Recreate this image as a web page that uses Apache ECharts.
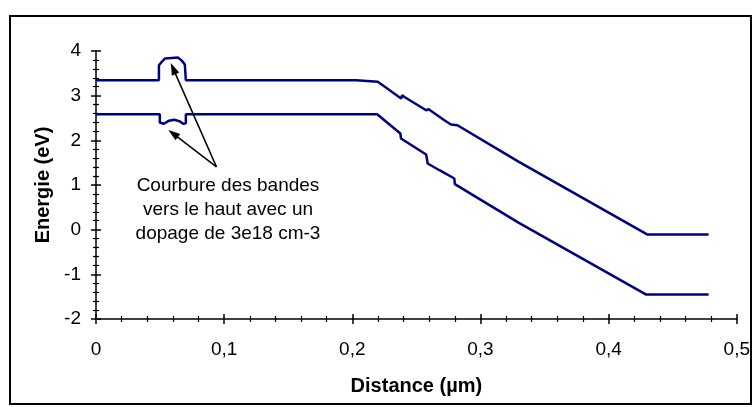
<!DOCTYPE html>
<html>
<head>
<meta charset="utf-8">
<script src="https://cdn.jsdelivr.net/npm/echarts@6/dist/echarts.min.js"></script>
<style>
html,body{margin:0;padding:0;background:#fff;}
#chart{width:753px;height:407px;}
</style>
</head>
<body>
<div id="chart"></div>
<script>
// Conduction band (upper curve): [distance µm, energy eV]
const bandUpperX = [0, 0.0491, 0.0491, 0.0512, 0.0537, 0.0551, 0.0641, 0.0667, 0.0693, 0.0701, 0.0701, 0.203, 0.203, 0.2199, 0.2381, 0.2389, 0.2407, 0.2576, 0.2596, 0.2718, 0.277, 0.278, 0.282, 0.3146, 0.330, 0.430, 0.478];
const bandUpperY = [3.345, 3.345, 3.68, 3.754, 3.83, 3.852, 3.852, 3.79, 3.70, 3.68, 3.345, 3.345, 3.31, 3.31, 2.935, 3.01, 2.97, 2.673, 2.696, 2.45, 2.353, 2.39, 2.338, 1.78, 1.517, -0.107, -0.107];
// Valence band (lower curve)
const bandLowerX = [0, 0.0498, 0.0498, 0.053, 0.057, 0.061, 0.065, 0.068, 0.0701, 0.0701, 0.2194, 0.2375, 0.238, 0.2576, 0.2588, 0.268, 0.2796, 0.280, 0.299, 0.330, 0.429, 0.478];
const bandLowerY = [2.584, 2.584, 2.40, 2.37, 2.44, 2.46, 2.43, 2.37, 2.38, 2.584, 2.584, 2.152, 2.04, 1.682, 1.481, 1.331, 1.145, 1.018, 0.69, 0.152, -1.45, -1.45];

const xTickLabels = ['0', '0,1', '0,2', '0,3', '0,4', '0,5'];
const yTickLabels = ['-2', '-1', '0', '1', '2', '3', '4'];

const annotationLines = ['Courbure des bandes', 'vers le haut avec un', 'dopage de 3e18 cm-3'];
const annotationAnchor = [0.103, 0.436];
const arrowTail = [0.094, 1.405];
const arrowTips = [[0.0602, 3.606], [0.0602, 2.152]];

const xAxisTitle = 'Distance (µm)';
const yAxisTitle = 'Energie (eV)';

const FONT = '"Liberation Sans", Arial, sans-serif';
const zip = (xs, ys) => xs.map((x, i) => [x, ys[i]]);

const chart = echarts.init(document.getElementById('chart'), null, {renderer: 'canvas'});

const axisLineStyle = {color: '#000', width: 1.5};
function xAxisDef(inside) {
  return {
    type: 'value', min: 0, max: 0.5, interval: 0.1, position: 'bottom',
    splitLine: {show: false},
    axisLine: {show: !inside, onZero: false, lineStyle: axisLineStyle},
    axisTick: {show: true, inside: inside, length: 5, lineStyle: {color: '#000', width: 1.5}},
    minorTick: {show: true, splitNumber: 5, length: 3, lineStyle: {color: '#000', width: 1.2}},
    axisLabel: inside ? {show: false} : {
      show: true, margin: 21, color: '#000', fontSize: 19, fontFamily: FONT,
      formatter: (v, i) => xTickLabels[Math.round(v / 0.1)]
    },
    name: inside ? '' : xAxisTitle,
    nameLocation: 'middle', nameGap: 57,
    nameTextStyle: {fontSize: 20, fontWeight: 'bold', color: '#000', fontFamily: FONT}
  };
}
function yAxisDef(inside) {
  return {
    type: 'value', min: -2, max: 4, interval: 1, position: 'left',
    splitLine: {show: false},
    axisLine: {show: !inside, onZero: false, lineStyle: axisLineStyle},
    axisTick: {show: true, inside: inside, length: 5, lineStyle: {color: '#000', width: 1.5}},
    minorTick: {show: true, splitNumber: 5, length: 3, lineStyle: {color: '#000', width: 1.2}},
    axisLabel: inside ? {show: false} : {
      show: true, margin: 15, color: '#000', fontSize: 19, fontFamily: FONT,
      formatter: (v) => yTickLabels[Math.round(v + 2)]
    },
    name: inside ? '' : yAxisTitle,
    nameLocation: 'middle', nameGap: 42,
    nameTextStyle: {fontSize: 20, fontWeight: 'bold', color: '#000', fontFamily: FONT}
  };
}

const option = {
  animation: false,
  backgroundColor: '#fff',
  grid: {left: 96, right: 15, top: 51, bottom: 88, containLabel: false},
  xAxis: [xAxisDef(false), xAxisDef(true)],
  yAxis: [yAxisDef(false), yAxisDef(true)],
  series: [
    {
      type: 'line', name: 'BC', data: zip(bandUpperX, bandUpperY),
      showSymbol: false, symbol: 'none',
      lineStyle: {color: '#000080', width: 2.5},
      emphasis: {disabled: true},
      markLine: {
        silent: true, animation: false,
        symbol: ['none', 'triangle'], symbolSize: [0, 0],
        label: {show: false},
        lineStyle: {color: '#000', width: 1.5, type: 'solid'},
        data: arrowTips.map(t => [
          {coord: arrowTail, symbol: 'none'},
          {coord: t, symbol: 'triangle', symbolSize: [8, 12]}
        ])
      }
    },
    {
      type: 'line', name: 'BV', data: zip(bandLowerX, bandLowerY),
      showSymbol: false, symbol: 'none',
      lineStyle: {color: '#000080', width: 2.5},
      emphasis: {disabled: true}
    }
  ]
};
chart.setOption(option);

const p = chart.convertToPixel({gridIndex: 0}, annotationAnchor);
chart.setOption({
  graphic: [
    {
      type: 'rect', shape: {x: 10, y: 16, width: 741, height: 388},
      style: {fill: 'none', stroke: '#000', lineWidth: 2}, silent: true
    },
    {
      type: 'text', x: p[0], y: p[1],
      style: {
        text: annotationLines.join('\n'), fill: '#000',
        font: '19px ' + FONT, lineHeight: 24,
        textAlign: 'center', textVerticalAlign: 'middle'
      }, silent: true
    }
  ]
});
</script>
</body>
</html>
